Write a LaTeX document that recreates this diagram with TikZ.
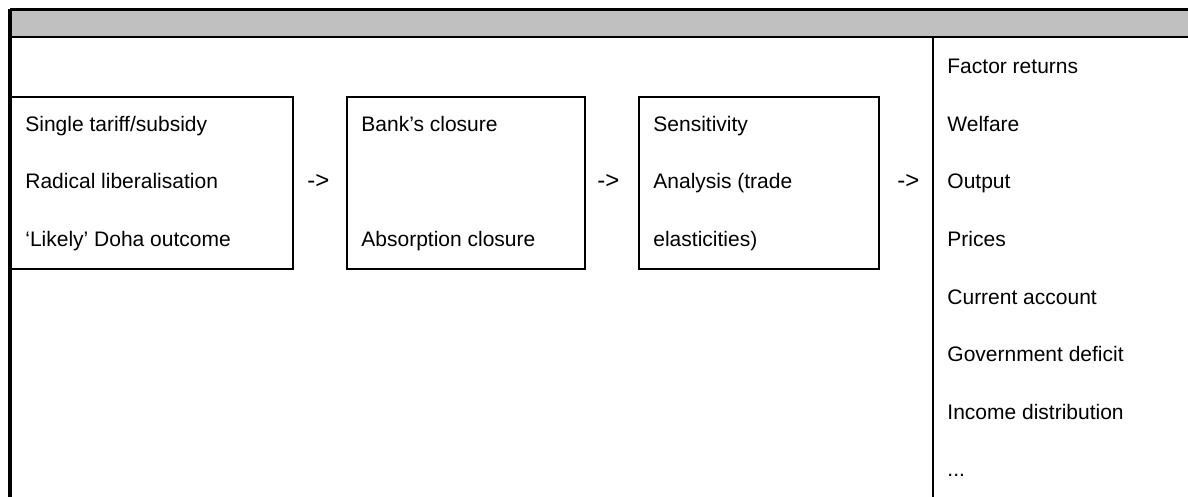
\documentclass[tikz,border=0pt]{standalone}
\usepackage{fontspec}
\setmainfont{Liberation Sans}
\definecolor{headgray}{RGB}{192,192,192}

\begin{document}
\begin{tikzpicture}[x={(0.5pt,0)}, y={(0,-0.5pt)},
        box/.style={draw, line width=1pt, anchor=north west, inner sep=0pt, minimum height=86pt},
        cell/.style={anchor=base west, inner sep=0pt, font=\fontsize{10.5}{12}\selectfont},
        flow/.style={font=\fontsize{12}{14}\selectfont}]
        \useasboundingbox (0,0) rectangle (1188,497);

        % frame and header
        \fill[headgray] (10,10) rectangle (1188,37);
        \draw[line width=1.3pt] (10,37) -- (1188,37);
        \draw[line width=1.2pt] (10,9.5) -- (1188,9.5);
        \draw[line width=2pt] (10,497) -- (10,8.9);
        \draw[line width=1pt] (933,37) -- (933,497);

        % boxes
        \node[box, minimum width=141pt] (shocks) at (10,96) {};
        \node[box, minimum width=119pt] (closures) at (346,96) {};
        \node[box, minimum width=120pt] (sensitivity) at (638,96) {};

        \begin{scope}[every node/.style={cell}]
            \node (shock1) at (25,131.5) {Single tariff/subsidy};
            \node (shock2) at (25,189) {Radical liberalisation};
            \node (shock3) at (25,246.5) {`Likely' Doha outcome};

            \node (clos1) at (361,131.5) {Bank's closure};
            \node (clos2) at (361,246.5) {Absorption closure};

            \node (sens1) at (653,131.5) {Sensitivity};
            \node (sens2) at (653,189) {Analysis (trade};
            \node (sens3) at (653,246.5) {elasticities)};

            \node[flow] (arr1) at (307,189) {->};
            \node[flow] (arr2) at (597,189) {->};
            \node[flow] (arr3) at (897,189) {->};

            \node (out1) at (947,74) {Factor returns};
            \node (out2) at (947,131.5) {Welfare};
            \node (out3) at (947,189) {Output};
            \node (out4) at (947,246.5) {Prices};
            \node (out5) at (947,304) {Current account};
            \node (out6) at (947,361.5) {Government deficit};
            \node (out7) at (947,419) {Income distribution};
            \node (out8) at (947,476.5) {...};
        \end{scope}
    \end{tikzpicture}
\end{document}
